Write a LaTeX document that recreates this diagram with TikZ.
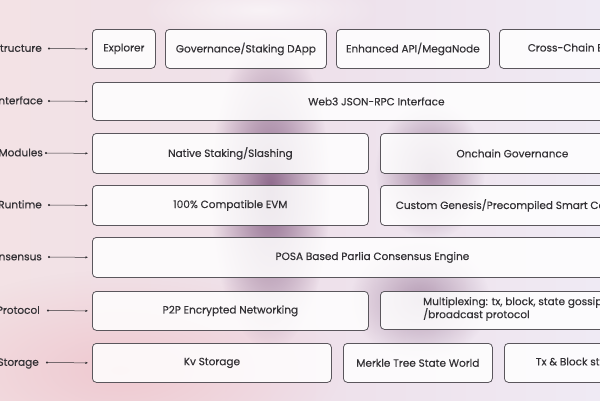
\documentclass[tikz,border=0pt]{standalone}
\usepackage{fontspec}
\setmainfont{Poppins}[FakeBold=0.35]
\usetikzlibrary{arrows.meta,fadings}
\definecolor{bgL}{HTML}{F3E2E5}
\definecolor{bgM}{HTML}{EEE0EA}
\definecolor{bgR}{HTML}{EFEAF4}
\definecolor{blob}{HTML}{8E6A8C}
\definecolor{pinkb}{HTML}{EFC9D0}
\definecolor{bordergray}{HTML}{5A565C}
\definecolor{textgray}{HTML}{333135}
\tikzfading[name=fuzzy, inner color=transparent!0, outer color=transparent!100]
\tikzset{
  boxst/.style={draw=bordergray, line width=0.8pt, rounded corners=4pt, fill=white, fill opacity=0.85, text opacity=1, text=textgray, font=\fontsize{10.5}{13}\selectfont, inner sep=0pt, anchor=north west},
  txtst/.style={text=textgray, font=\fontsize{10.5}{13}\selectfont, inner sep=0pt},
  lbl/.style={text=textgray, font=\fontsize{10.5}{13}\selectfont, anchor=east, inner sep=0pt, text height=1.5ex, text depth=.3ex},
  conn/.style={draw=textgray, line width=0.5pt, {Circle[length=2pt]}-{Latex[length=2.5pt,width=2.5pt]}, shorten >=4pt}
}
\begin{document}
\begin{tikzpicture}[x=1pt,y=-1pt]
\useasboundingbox (0,0) rectangle (600,400);
\clip (0,0) rectangle (600,400);
% background
\shade[left color=bgL, right color=bgR, middle color=bgM] (0,0) rectangle (600,400);
\fill[pinkb, path fading=fuzzy] (120,370) ellipse (220 and 100);
\fill[blob, path fading=fuzzy, fill opacity=1] (270,190) ellipse (60 and 160);
\fill[blob, path fading=fuzzy, fill opacity=0.8] (430,170) ellipse (55 and 70);
\fill[blob, path fading=fuzzy, fill opacity=0.6] (420,300) ellipse (70 and 60);
\fill[white, path fading=fuzzy, fill opacity=0.6] (260,10) ellipse (120 and 30);
% row 1 Structure
\node[boxst, minimum width=63pt, minimum height=39pt] (explorer) at (92,29) {Explorer};
\node[boxst, minimum width=161pt, minimum height=39pt] (gov) at (165,29) {Governance/Staking DApp};
\node[boxst, minimum width=153pt, minimum height=39pt] (api) at (336,29) {Enhanced API/MegaNode};
\node[boxst, minimum width=160pt, minimum height=39pt] (cross) at (499,29) {Cross-Chain Bridge};
% row 2 Interface
\node[boxst, minimum width=568pt, minimum height=38pt] (rpc) at (92,82) {Web3 JSON-RPC Interface};
% row 3 Modules
\node[boxst, minimum width=276pt, minimum height=40pt] (staking) at (92,133) {Native Staking/Slashing};
\node[boxst, minimum width=264pt, minimum height=40pt] (onchain) at (380,133) {Onchain Governance};
% row 4 Runtime
\node[boxst, minimum width=276pt, minimum height=40pt] (evm) at (92,185) {100\% Compatible EVM};
\node[boxst, minimum width=272pt, minimum height=40pt] (genesis) at (380,185) {Custom Genesis/Precompiled Smart Contract};
% row 5 Consensus
\node[boxst, minimum width=560pt, minimum height=40pt] (posa) at (92,237) {POSA Based Parlia Consensus Engine};
% row 6 Protocol
\node[boxst, minimum width=276pt, minimum height=39pt] (p2p) at (92,291) {P2P Encrypted Networking};
\node[boxst, minimum width=300pt, minimum height=38pt] (mux) at (380,291) {};
\node[txtst, anchor=west, align=left] (muxtext) at (423,309) {Multiplexing: tx, block, state gossip\\/broadcast protocol};
% row 7 Storage
\node[boxst, minimum width=239pt, minimum height=39pt] (kv) at (92,343) {Kv Storage};
\node[boxst, minimum width=149pt, minimum height=39pt] (merkle) at (343,343) {Merkle Tree State World};
\node[boxst, minimum width=158pt, minimum height=39pt] (txblock) at (504,343) {Tx \& Block storage};
% labels
\node[lbl] (lStructure) at (42,48.5) {Structure};
\node[lbl] (lInterface) at (43,101) {Interface};
\node[lbl] (lModules) at (43,153) {Modules};
\node[lbl] (lRuntime) at (42,205) {Runtime};
\node[lbl] (lConsensus) at (42,257) {Consensus};
\node[lbl] (lProtocol) at (40,310.5) {Protocol};
\node[lbl] (lStorage) at (39,362.5) {Storage};
% connectors
\draw[conn] ([xshift=6pt]lStructure.east) -- (explorer.west);
\draw[conn] ([xshift=5pt]lInterface.east) -- (rpc.west);
\draw[conn] ([xshift=2pt]lModules.east) -- (staking.west);
\draw[conn] ([xshift=6pt]lRuntime.east) -- (evm.west);
\draw[conn] ([xshift=6pt]lConsensus.east) -- (posa.west);
\draw[conn] ([xshift=7pt]lProtocol.east) -- (p2p.west);
\draw[conn] ([xshift=7pt]lStorage.east) -- (kv.west);
\end{tikzpicture}
\end{document}
